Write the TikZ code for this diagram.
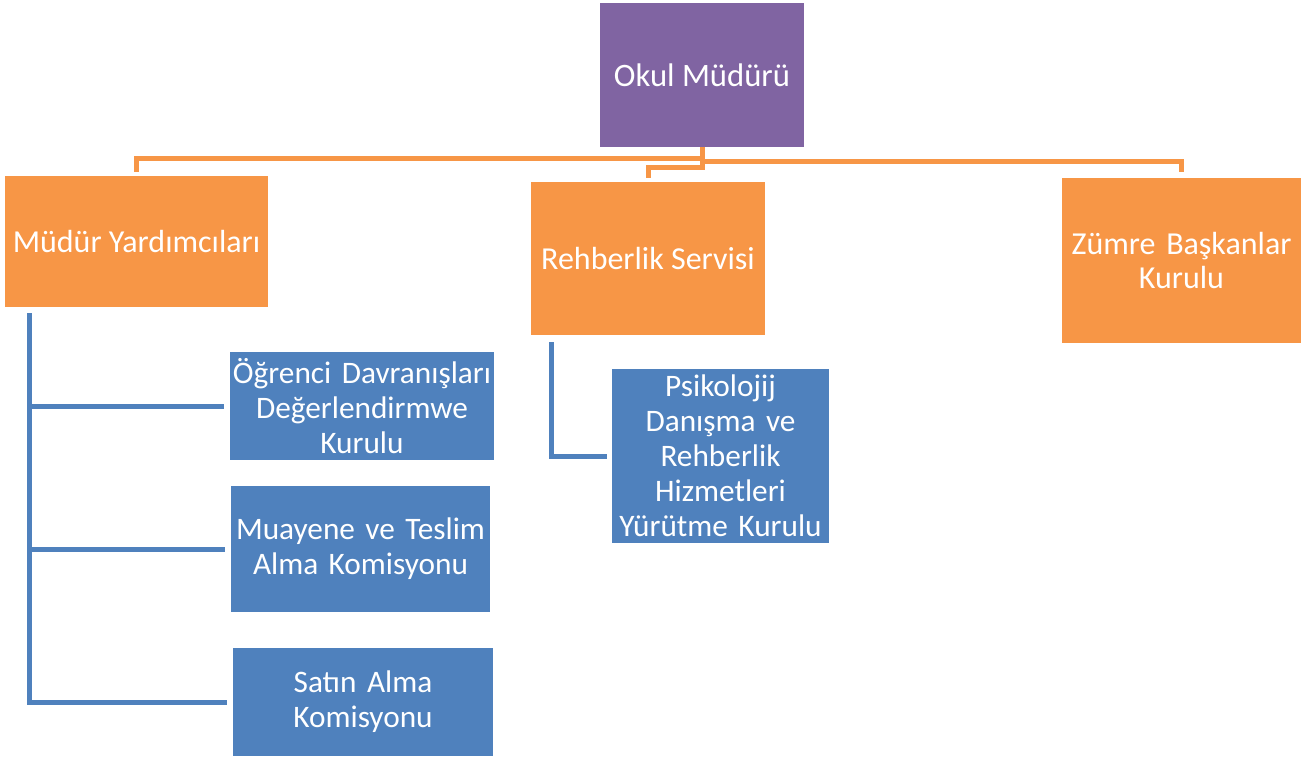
\documentclass[tikz,border=0pt]{standalone}
\usepackage{fontspec}
\setmainfont{Carlito}
\usetikzlibrary{calc}
\definecolor{purp}{HTML}{8064A2}
\definecolor{orng}{HTML}{F79646}
\definecolor{blu}{HTML}{4F81BD}
\begin{document}
\begin{tikzpicture}[x=1pt,y=-1pt,
  box/.style={inner sep=0pt, align=center, text=white, font=\fontsize{31.3}{35}\selectfont},
  pbox/.style={box, fill=purp, font=\fontsize{32.7}{36}\selectfont},
  obox/.style={box, fill=orng, font=\fontsize{32}{35}\selectfont},
  bbox/.style={box, fill=blu},
  oline/.style={draw=orng, line width=5pt},
  bline/.style={draw=blu, line width=5pt}]
\useasboundingbox (0,0) rectangle (1314,756);
\node[pbox, minimum width=204pt, minimum height=144pt] (okul) at (702,75) {Okul Müdürü};
\node[obox, minimum width=263pt, minimum height=131pt] (myard) at (136.5,241.5) {Müdür Yardımcıları};
\node[obox, minimum width=234pt, minimum height=153pt] (rehber) at (648,258.5) {Rehberlik Servisi};
\node[obox, minimum width=239pt, minimum height=165pt, text width=239pt] (zumre) at (1181.5,260.5) {Zümre Başkanlar\\Kurulu};
\node[bbox, minimum width=264pt, minimum height=108pt, text width=264pt] (ogr) at (362,406) {Öğrenci Davranışları\\Değerlendirmwe\\Kurulu};
\node[bbox, minimum width=259pt, minimum height=126pt, text width=259pt] (muay) at (360.5,549) {Muayene ve Teslim\\Alma Komisyonu};
\node[bbox, minimum width=260pt, minimum height=108pt, text width=260pt] (satin) at (363,702) {Satın Alma\\Komisyonu};
\node[bbox, minimum width=217pt, minimum height=174pt, text width=217pt] (psik) at (720.5,456) {Psikolojij\\Danışma ve\\Rehberlik\\Hizmetleri\\Yürütme Kurulu};
% orange connectors
\draw[oline, shorten >=4pt] (okul.south) -- ++(0,11) -| (myard.north);
\draw[oline, shorten >=6pt] (okul.south) -- ++(0,14) -| (zumre.north);
\draw[oline, shorten >=4pt] (okul.south) -- ++(0,20) -| (rehber.north);
% blue connectors
\coordinate (mtop) at ($(myard.south west)+(25,6)$);
\draw[bline] (mtop) |- ($(ogr.west)+(-6,0)$);
\draw[bline] (mtop) |- ($(muay.west)+(-6,0)$);
\draw[bline] (mtop) |- ($(satin.west)+(-6,0)$);
\draw[bline] ($(rehber.south west)+(21,7)$) |- ($(psik.west)+(-5,0)$);
\end{tikzpicture}
\end{document}
